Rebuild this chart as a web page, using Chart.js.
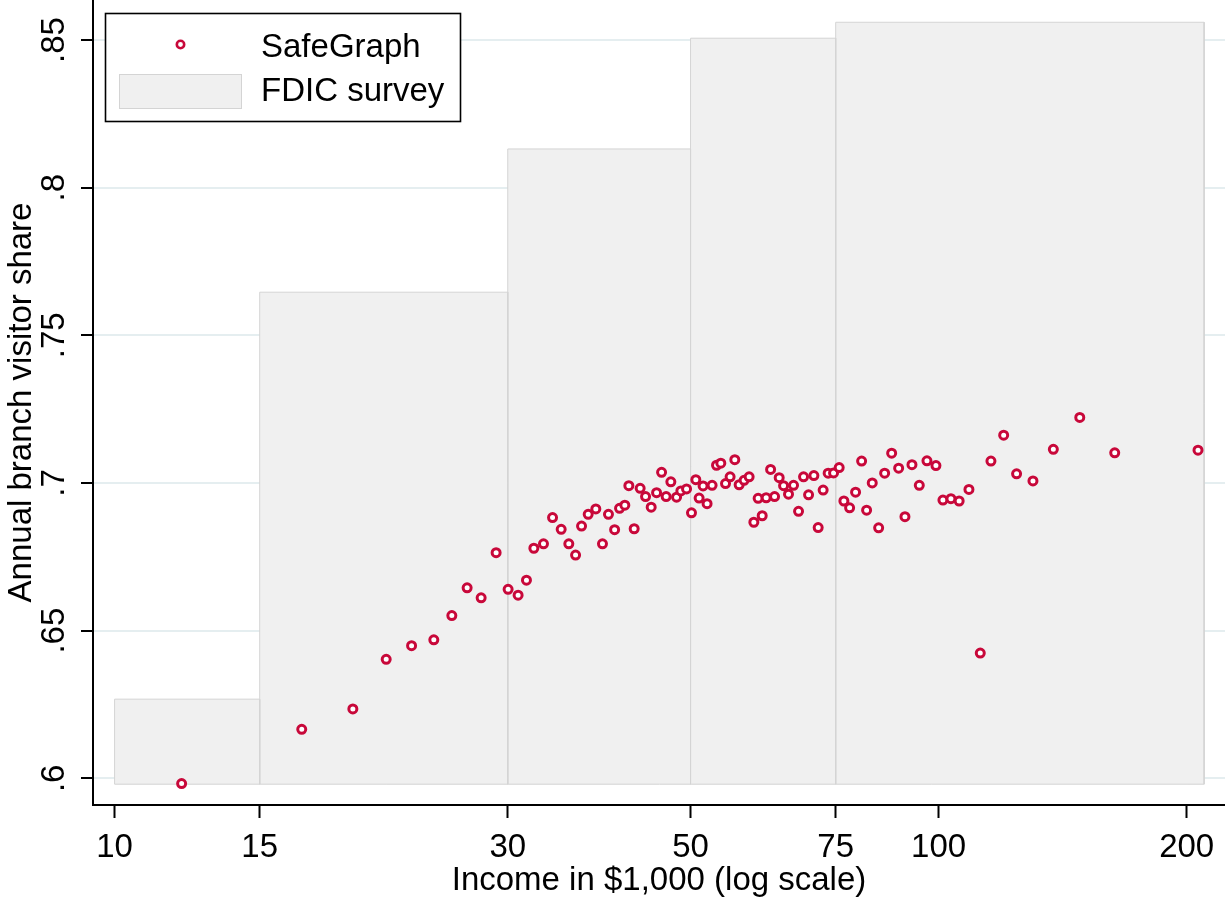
<!DOCTYPE html>
<html>
<head>
<meta charset="utf-8">
<script src="https://cdn.jsdelivr.net/npm/chart.js@4"></script>
<style>
  html, body { margin: 0; padding: 0; background: #ffffff; }
  #wrap { position: relative; width: 1225px; height: 901px; }
</style>
</head>
<body>
<div id="wrap"><canvas id="c"></canvas></div>
<script>
// ---- data ----
const incomeK = [12.06, 16.87, 19.46, 21.36, 22.93, 24.40, 25.66, 26.78, 27.85, 29.04,
  30.03, 30.88, 31.61, 32.27, 33.15, 34.00, 34.83, 35.58, 36.26, 36.87,
  37.56, 38.37, 39.09, 39.75, 40.44, 41.00, 41.61, 42.08, 42.71, 43.43,
  44.09, 44.79, 45.47, 46.11, 46.70, 47.32, 48.08, 48.66, 49.44, 50.13,
  50.74, 51.21, 51.78, 52.36, 53.10, 53.76, 54.41, 55.13, 55.84, 56.58,
  57.27, 58.07, 58.89, 59.67, 60.39, 61.08, 61.76, 62.53, 63.23, 64.05,
  64.84, 65.74, 66.67, 67.61, 68.56, 69.53, 70.57, 71.42, 72.42, 73.44,
  74.56, 75.74, 76.74, 77.98, 79.29, 80.64, 81.77, 83.07, 84.57, 86.00,
  87.70, 89.43, 91.02, 92.82, 94.74, 96.79, 99.25, 101.21, 103.50, 105.90,
  108.84, 112.34, 115.74, 119.93, 124.34, 130.16, 137.79, 148.35, 163.57, 206.43];
const visitorShare = [0.5982, 0.6166, 0.6235, 0.6403, 0.6449, 0.6469, 0.6551, 0.6645, 0.6611, 0.6764,
  0.6640, 0.6620, 0.6671, 0.6779, 0.6794, 0.6883, 0.6843, 0.6794, 0.6756, 0.6854,
  0.6894, 0.6912, 0.6794, 0.6894, 0.6842, 0.6914, 0.6925, 0.6991, 0.6845, 0.6982,
  0.6954, 0.6918, 0.6967, 0.7036, 0.6954, 0.7004, 0.6952, 0.6973, 0.6980, 0.6899,
  0.7011, 0.6949, 0.6990, 0.6930, 0.6992, 0.7060, 0.7067, 0.6998, 0.7021, 0.7079,
  0.6994, 0.7009, 0.7021, 0.6867, 0.6948, 0.6889, 0.6950, 0.7046, 0.6954, 0.7018,
  0.6991, 0.6962, 0.6992, 0.6904, 0.7021, 0.6960, 0.7025, 0.6849, 0.6976, 0.7033,
  0.7034, 0.7052, 0.6939, 0.6916, 0.6969, 0.7074, 0.6908, 0.7000, 0.6848, 0.7033,
  0.7101, 0.7050, 0.6886, 0.7062, 0.6992, 0.7075, 0.7059, 0.6942, 0.6947, 0.6939,
  0.6978, 0.6424, 0.7074, 0.7162, 0.7031, 0.7007, 0.7114, 0.7222, 0.7102, 0.7111];

const fdicEdges = [10, 15, 30, 50, 75, 210];
const fdicShare = [0.6268, 0.7646, 0.8131, 0.8506, 0.8560];
const fdicBase = 0.598;

const xTickValues = [10, 15, 30, 50, 75, 100, 200];
const xTickLabels = ['10', '15', '30', '50', '75', '100', '200'];
const yTickValues = [0.6, 0.65, 0.7, 0.75, 0.8, 0.85];
const yTickLabels = ['.6', '.65', '.7', '.75', '.8', '.85'];

const seriesNames = ['SafeGraph', 'FDIC survey'];
const xTitle = 'Income in $1,000 (log scale)';
const yTitle = 'Annual branch visitor share';

// ---- styles ----
const FONT = '"Liberation Sans", Arial, Helvetica, sans-serif';
const pointColor = '#c8083a';
const barFill = '#f0f0f0';
const barLine = '#d4d4d4';
const gridColor = '#e5eef0';

// ---- datasets ----
const datasets = [];
datasets.push({
  label: seriesNames[0],
  data: incomeK.map((x, i) => ({ x: x, y: visitorShare[i] })),
  showLine: false,
  pointStyle: 'circle',
  pointRadius: 4,
  pointBorderWidth: 3,
  pointBorderColor: pointColor,
  pointBackgroundColor: '#ffffff',
  order: 0
});
for (let i = 0; i < fdicShare.length; i++) {
  const x0 = fdicEdges[i], x1 = fdicEdges[i + 1], h = fdicShare[i];
  datasets.push({
    label: seriesNames[1] + ' ' + i,
    data: [{ x: x0, y: fdicBase }, { x: x0, y: h }, { x: x1, y: h }, { x: x1, y: fdicBase }],
    showLine: true,
    fill: { value: fdicBase },
    backgroundColor: barFill,
    borderColor: barLine,
    borderWidth: 1,
    pointRadius: 0,
    tension: 0,
    order: 2
  });
}
datasets.push({
  label: 'base',
  data: [{ x: fdicEdges[0], y: fdicBase }, { x: fdicEdges[fdicEdges.length - 1], y: fdicBase }],
  showLine: true,
  fill: false,
  borderColor: barLine,
  borderWidth: 1,
  pointRadius: 0,
  order: 1
});

// ---- legend drawn inside plot ----
const insideLegend = {
  id: 'insideLegend',
  afterDraw(chart) {
    const ctx = chart.ctx;
    ctx.save();
    ctx.fillStyle = '#ffffff';
    ctx.fillRect(105.5, 13.5, 355, 108);
    ctx.strokeStyle = '#000000';
    ctx.lineWidth = 1.6;
    ctx.strokeRect(105.5, 13.5, 355, 108);
    ctx.beginPath();
    ctx.arc(180.5, 44.5, 3.7, 0, Math.PI * 2);
    ctx.fillStyle = '#ffffff';
    ctx.fill();
    ctx.lineWidth = 2.6;
    ctx.strokeStyle = pointColor;
    ctx.stroke();
    ctx.fillStyle = barFill;
    ctx.fillRect(119.5, 74.5, 122, 34);
    ctx.strokeStyle = barLine;
    ctx.lineWidth = 1;
    ctx.strokeRect(119.5, 74.5, 122, 34);
    ctx.fillStyle = '#000000';
    ctx.font = '33px ' + FONT;
    ctx.textAlign = 'left';
    ctx.textBaseline = 'alphabetic';
    ctx.fillText(seriesNames[0], 261, 57);
    ctx.fillText(seriesNames[1], 261, 100.5);
    ctx.restore();
  }
};

new Chart(document.getElementById('c'), {
  type: 'scatter',
  data: { datasets: datasets },
  plugins: [insideLegend],
  options: {
    responsive: true,
    maintainAspectRatio: false,
    animation: false,
    devicePixelRatio: 1,
    layout: { padding: 0, autoPadding: false },
    plugins: {
      legend: { display: false },
      tooltip: { enabled: false }
    },
    scales: {
      x: {
        type: 'logarithmic',
        min: 9.4146,
        max: 222.6,
        afterBuildTicks(scale) { scale.ticks = xTickValues.map(v => ({ value: v })); },
        afterFit(scale) {
          scale.height = 96;
          scale.paddingLeft = 0; scale.paddingRight = 0;
          scale.paddingTop = 0; scale.paddingBottom = 0;
        },
        ticks: {
          autoSkip: false,
          maxRotation: 0,
          minRotation: 0,
          padding: 10,
          color: '#000000',
          font: { family: FONT, size: 33 },
          callback: (v, i) => xTickLabels[i]
        },
        grid: {
          drawOnChartArea: false,
          drawTicks: true,
          tickLength: 13,
          tickColor: '#000000',
          tickWidth: 2
        },
        border: { display: true, color: '#000000', width: 2 },
        title: {
          display: true,
          text: xTitle,
          color: '#000000',
          font: { family: FONT, size: 33 },
          padding: { top: 0, bottom: 0 }
        }
      },
      y: {
        type: 'linear',
        min: 0.59096,
        max: 0.86354,
        afterBuildTicks(scale) { scale.ticks = yTickValues.map(v => ({ value: v })); },
        afterFit(scale) {
          scale.width = 93;
          scale.paddingLeft = 0; scale.paddingRight = 0;
          scale.paddingTop = 0; scale.paddingBottom = 0;
        },
        ticks: {
          autoSkip: false,
          minRotation: 90,
          maxRotation: 90,
          crossAlign: 'center',
          padding: 3,
          color: '#000000',
          font: { family: FONT, size: 33 },
          callback: (v, i) => yTickLabels[i]
        },
        grid: {
          color: gridColor,
          lineWidth: 2,
          drawTicks: true,
          tickLength: 12,
          tickColor: '#000000',
          tickWidth: 2
        },
        border: { display: true, color: '#000000', width: 2 },
        title: {
          display: true,
          text: yTitle,
          color: '#000000',
          font: { family: FONT, size: 33 },
          padding: { top: 2, bottom: 0 }
        }
      }
    }
  }
});
</script>
</body>
</html>
